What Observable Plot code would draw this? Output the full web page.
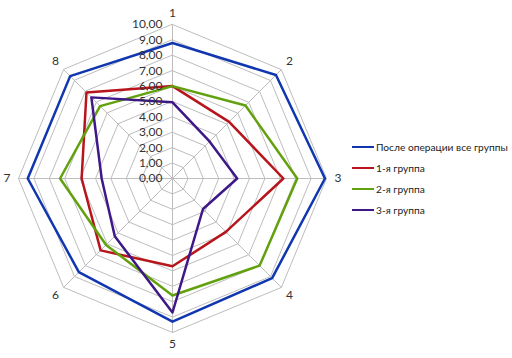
<!DOCTYPE html>
<html><head><meta charset="utf-8">
<script src="https://cdn.jsdelivr.net/npm/d3@7"></script>
<script src="https://cdn.jsdelivr.net/npm/@observablehq/plot@0.6"></script>
<style>
body{margin:0;background:#fff;font-family:Lato,"Open Sans",sans-serif;}
#wrap{position:relative;width:512px;height:358px;}
#legend{position:absolute;left:352px;top:137px;font-size:10.2px;color:#222;}
#legend .row{display:flex;align-items:center;height:20.8px;white-space:nowrap;}
#legend .sw{width:22px;height:0;border-top:2.5px solid;margin-right:2px;}
</style></head>
<body><div id="wrap"><div id="chart"></div><div id="legend"></div></div>
<script>
const axisLabels = ["1","2","3","4","5","6","7","8"];
const seriesNames = ["После операции все группы","1-я группа","2-я группа","3-я группа"];
const seriesColors = ["#1036b0","#b8141c","#62a10e","#3e1888"];
const allGroups = [8.8, 9.5, 9.9, 9.15, 9.3, 8.6, 9.4, 9.4];
const group1    = [6.0, 5.2, 7.2, 4.9, 5.7, 6.6, 5.9, 7.9];
const group2    = [6.0, 6.7, 8.1, 8.0, 7.6, 6.1, 7.3, 6.65];
const group3    = [4.95, 3.4, 4.2, 2.8, 8.7, 5.3, 4.6, 7.45];
const tickValues = [0,1,2,3,4,5,6,7,8,9,10];
const tickLabels = ["0,00","1,00","2,00","3,00","4,00","5,00","6,00","7,00","8,00","9,00","10,00"];

const seriesValues = [allGroups, group1, group2, group3];
const n = axisLabels.length;
const ang = i => i * 2 * Math.PI / n;
const px = (r, i) => r * Math.sin(ang(i));
const py = (r, i) => r * Math.cos(ang(i));

const gridPts = tickValues.filter(v => v > 0).flatMap(v => axisLabels.map((a, i) => ({level: v, x: px(v, i), y: py(v, i)})));
const spokes = axisLabels.map((a, i) => ({x2: px(10, i), y2: py(10, i)}));
const seriesPts = seriesNames.flatMap((s, k) => seriesValues[k].map((v, i) => ({series: s, x: px(v, i), y: py(v, i)})));
const labelPts = axisLabels.map((a, i) => ({label: a, x: px(10.75, i), y: py(10.75, i)}));
const tickPts = tickValues.map((v, j) => ({y: v, label: tickLabels[j]}));

const U = 15.4;
const chart = Plot.plot({
  width: 512, height: 358,
  margin: 0,
  x: {domain: [-172 / U, 340 / U], range: [0, 512], axis: null},
  y: {domain: [-180 / U, 178 / U], range: [358, 0], axis: null},
  color: {domain: seriesNames, range: seriesColors},
  style: {fontFamily: "Lato, 'Open Sans', sans-serif"},
  marks: [
    Plot.line(gridPts, {x: "x", y: "y", z: "level", curve: "linear-closed", stroke: "#bdbdbd", strokeWidth: 1}),
    Plot.link(spokes, {x1: 0, y1: 0, x2: "x2", y2: "y2", stroke: "#bdbdbd", strokeWidth: 1}),
    Plot.line(seriesPts, {x: "x", y: "y", z: "series", stroke: "series", curve: "linear-closed", strokeWidth: 2.5}),
    Plot.text(tickPts, {x: 0, y: "y", text: "label", textAnchor: "end", dx: -10, fontSize: 12, fill: "#333"}),
    Plot.text(labelPts, {x: "x", y: "y", text: "label", fontSize: 12, fill: "#333"})
  ]
});
document.getElementById("chart").appendChild(chart);

const leg = document.getElementById("legend");
seriesNames.forEach((s, k) => {
  const row = document.createElement("div"); row.className = "row";
  const sw = document.createElement("span"); sw.className = "sw"; sw.style.borderColor = seriesColors[k];
  const t = document.createElement("span"); t.textContent = s;
  row.appendChild(sw); row.appendChild(t); leg.appendChild(row);
});
</script></body></html>
